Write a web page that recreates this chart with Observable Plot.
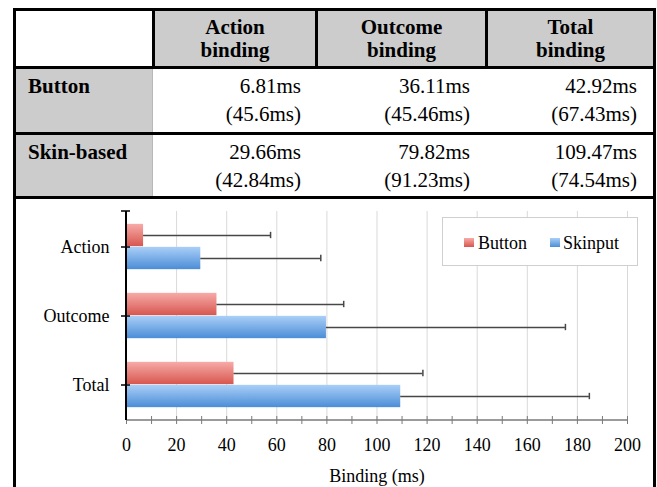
<!DOCTYPE html>
<html><head><meta charset="utf-8">
<script src="https://cdn.jsdelivr.net/npm/d3@7"></script>
<script src="https://cdn.jsdelivr.net/npm/@observablehq/plot@0.6"></script>
<style>
html,body{margin:0;padding:0;background:#fff;width:657px;height:487px;overflow:hidden;position:relative;font-family:"Liberation Serif","Times New Roman",serif;color:#000;}
.abs{position:absolute;}
</style></head><body>
<script>
// ---------- data ----------
const headerLines = [["Action","binding"],["Outcome","binding"],["Total","binding"]];
const rowLabels = ["Button","Skin-based"];
const tableMeans = [["6.81ms","36.11ms","42.92ms"],["29.66ms","79.82ms","109.47ms"]];
const tableSDs = [["(45.6ms)","(45.46ms)","(67.43ms)"],["(42.84ms)","(91.23ms)","(74.54ms)"]];
const categories = ["Action","Outcome","Total"];
const series = ["Button","Skinput"];
const buttonValues = [6.81, 36.11, 42.92];
const skinputValues = [29.66, 79.82, 109.47];
const buttonErrors = [50.7, 50.6, 75.4];
const skinputErrors = [47.9, 95.4, 75.3];
const xTickLabels = [0,20,40,60,80,100,120,140,160,180,200];
const xMinorTicks = [0,10,20,30,40,50,60,70,80,90,100,110,120,130,140,150,160,170,180,190,200];
const xLabel = "Binding (ms)";

// ---------- table ----------
const body = document.body;
function box(x, y, w, h, bg) {
  const d = document.createElement("div");
  d.className = "abs";
  Object.assign(d.style, {left: x + "px", top: y + "px", width: w + "px", height: h + "px", background: bg});
  body.appendChild(d);
  return d;
}
const colLines = [13, 152, 315, 485, 653];
const rowLines = [8, 66, 132, 196];
const LW = 3;
const GRAY = "#cccccc";
for (let j = 1; j <= 3; j++) box(colLines[j] + LW, rowLines[0] + LW, colLines[j + 1] - colLines[j] - LW, rowLines[1] - rowLines[0] - LW, GRAY);
for (let i = 0; i < 2; i++) {
  box(colLines[0] + LW, rowLines[i + 1] + LW, colLines[1] - colLines[0] - LW, rowLines[i + 2] - rowLines[i + 1] - LW, GRAY);
  box(colLines[1], rowLines[i + 1] + LW, 1, rowLines[i + 2] - rowLines[i + 1] - LW, "#b8b8b8");
}
headerLines.forEach((lines, j) => {
  const d = box(colLines[j + 1] + LW, rowLines[0] + LW, colLines[j + 2] - colLines[j + 1] - LW, rowLines[1] - rowLines[0] - LW, "transparent");
  Object.assign(d.style, {display: "flex", flexDirection: "column", justifyContent: "center", alignItems: "center", fontWeight: "bold", fontSize: "21px", lineHeight: "23px"});
  d.innerHTML = lines.map(l => `<div>${l}</div>`).join("");
});
rowLabels.forEach((lab, i) => {
  const top = rowLines[i + 1] + LW + 3;
  const l = box(28, top, 120, 56, "transparent");
  Object.assign(l.style, {fontWeight: "bold", fontSize: "21px", lineHeight: "28px"});
  l.textContent = lab;
  for (let j = 0; j < 3; j++) {
    const pr = [14, 15, 16][j];
    const left = colLines[j + 1] + LW;
    const w = colLines[j + 2] - left - pr;
    const d = box(left, top, w, 56, "transparent");
    Object.assign(d.style, {textAlign: "right", fontSize: "21px", lineHeight: "28px", whiteSpace: "nowrap"});
    d.innerHTML = `<div>${tableMeans[i][j]}</div><div>${tableSDs[i][j]}</div>`;
  }
});

// ---------- chart ----------
const rows = categories.flatMap((c, i) => [
  {category: c, series: series[0], value: buttonValues[i], error: buttonErrors[i]},
  {category: c, series: series[1], value: skinputValues[i], error: skinputErrors[i]}
]);
const btn = rows.filter(d => d.series === series[0]);
const skn = rows.filter(d => d.series === series[1]);

const svgTop = 199, plotW = 657, plotH = 288;
const mT = 12, mB = 67, mL = 126, mR = 30;
const catBand = (plotH - mT - mB) / categories.length;
const barH = 23;
const outer = catBand / 2 - barH;
const capInset = (catBand - 7) / 2;
const RED = ["#f7aba8", "#d7564f"];
const BLUE = ["#aacff8", "#4b8dd6"];
const ERR = "#474747";

function decorations(index, scales, values, dims) {
  const g = d3.create("svg:g");
  const defs = g.append("defs");
  [["gradRed", RED], ["gradBlue", BLUE]].forEach(([id, c]) => {
    const lg = defs.append("linearGradient").attr("id", id).attr("x1", 0).attr("y1", 0).attr("x2", 0).attr("y2", 1);
    lg.append("stop").attr("offset", "0%").attr("stop-color", c[0]);
    lg.append("stop").attr("offset", "100%").attr("stop-color", c[1]);
  });
  const x0 = scales.x(0), x1 = scales.x(200);
  const top = dims.marginTop, bottom = dims.height - dims.marginBottom;
  g.append("line").attr("x1", x0).attr("x2", x1).attr("y1", bottom).attr("y2", bottom).attr("stroke", "#7a7a7a").attr("stroke-width", 1.5);
  g.append("line").attr("x1", x0).attr("x2", x0).attr("y1", top).attr("y2", bottom).attr("stroke", "#000").attr("stroke-width", 2);
  g.append("line").attr("x1", x0 - 5).attr("x2", x0 + 4).attr("y1", top).attr("y2", top).attr("stroke", "#000").attr("stroke-width", 1.5);
  return g.node();
}

const chart = Plot.plot({
  width: plotW, height: plotH,
  marginLeft: mL, marginRight: mR, marginTop: mT, marginBottom: mB,
  style: {fontFamily: '"Liberation Serif","Times New Roman",serif', fontSize: "18px", color: "#000", background: "transparent", overflow: "visible"},
  x: {domain: [0, 200], label: null, axis: null},
  y: {domain: categories, padding: 0, label: null, axis: null},
  marks: [
    Plot.gridX(xTickLabels.slice(1), {stroke: "#d9d9d9", strokeOpacity: 1}),
    Plot.barX(btn, {x: "value", y: "category", fill: "url(#gradRed)", insetTop: outer, insetBottom: catBand / 2}),
    Plot.barX(skn, {x: "value", y: "category", fill: "url(#gradBlue)", insetTop: catBand / 2, insetBottom: outer}),
    Plot.ruleY(btn, {y: "category", x1: "value", x2: d => d.value + d.error, dy: -barH / 2, stroke: ERR, strokeWidth: 1.5}),
    Plot.ruleY(skn, {y: "category", x1: "value", x2: d => d.value + d.error, dy: barH / 2, stroke: ERR, strokeWidth: 1.5}),
    Plot.tickX(btn, {x: d => d.value + d.error, y: "category", dy: -barH / 2, insetTop: capInset, insetBottom: capInset, stroke: ERR, strokeWidth: 1.5}),
    Plot.tickX(skn, {x: d => d.value + d.error, y: "category", dy: barH / 2, insetTop: capInset, insetBottom: capInset, stroke: ERR, strokeWidth: 1.5}),
    Plot.axisX(xMinorTicks, {tickSize: 8, dy: -4, tickFormat: () => "", stroke: "#7a7a7a", strokeOpacity: 1, label: null}),
    Plot.axisX(xTickLabels, {tickSize: 0, tickPadding: 18, label: null, fontSize: 18}),
    Plot.axisY({tickSize: 0, tickPadding: 17, label: null, fontSize: 18}),
    Plot.axisY({tickSize: 9, dx: 4, tickFormat: () => "", stroke: "#000", strokeWidth: 1.5, label: null}),
    decorations,
    Plot.text([xLabel], {frameAnchor: "bottom", dy: 61, fontSize: 18})
  ]
});
const wrap = document.createElement("div");
wrap.className = "abs";
Object.assign(wrap.style, {left: "0px", top: svgTop + "px"});
wrap.appendChild(chart);
body.appendChild(wrap);

// ---------- legend ----------
const lg = box(442, 217, 194, 47, "#fff");
lg.style.border = "1px solid #cfcfcf";
const legendItems = [[series[0], RED, 464, 478], [series[1], BLUE, 550, 563]];
legendItems.forEach(([name, c, sx, tx]) => {
  box(sx, 238, 10, 9, `linear-gradient(${c[0]}, ${c[1]})`);
  const t = box(tx, 234, 80, 18, "transparent");
  Object.assign(t.style, {fontSize: "18px", lineHeight: "18px", whiteSpace: "nowrap"});
  t.textContent = name;
});

// ---------- outer borders ----------
for (const y of rowLines) box(colLines[0], y, colLines[4] + LW - colLines[0], LW, "#000");
box(colLines[0], rowLines[0], LW, 487 - rowLines[0], "#000");
box(colLines[4], rowLines[0], LW, 487 - rowLines[0], "#000");
for (let j = 1; j <= 3; j++) box(colLines[j], rowLines[0], LW, rowLines[1] - rowLines[0] + LW, "#000");
</script>
</body></html>
